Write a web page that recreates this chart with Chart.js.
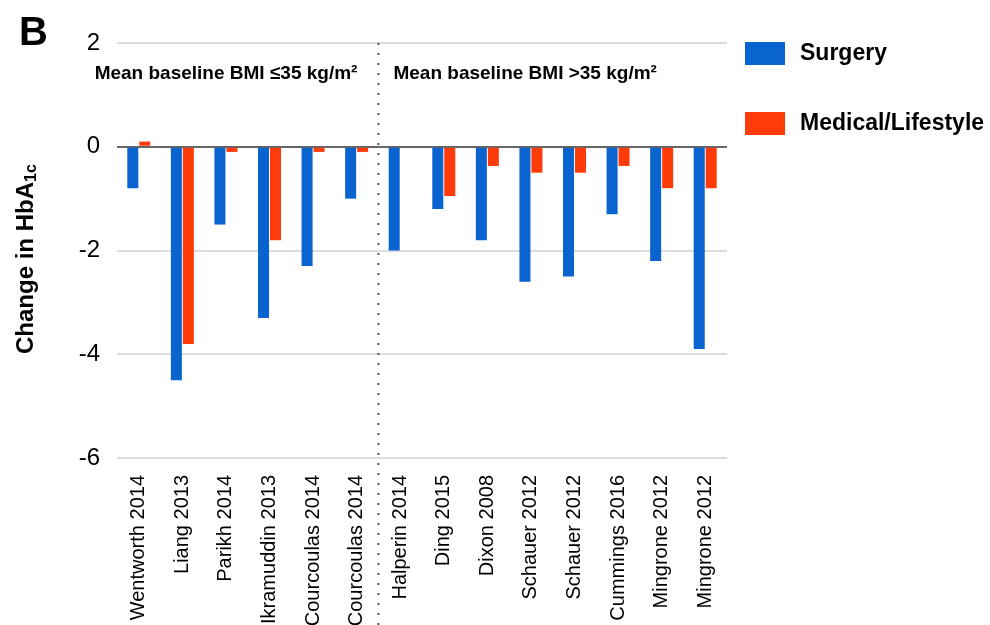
<!DOCTYPE html>
<html>
<head>
<meta charset="utf-8">
<script src="https://cdn.jsdelivr.net/npm/chart.js@4.4.1/dist/chart.umd.min.js"></script>
<style>
    body { margin: 0; background: #fff; }
    #wrap { width: 990px; height: 625px; position: relative; }
</style>
</head>
<body>
<div id="wrap"><canvas id="hbaChart" width="990" height="625"></canvas></div>
<script>
// Datos del gráfico
const studies = ['Wentworth 2014', 'Liang 2013', 'Parikh 2014', 'Ikramuddin 2013', 'Courcoulas 2014', 'Courcoulas 2014',
    'Halperin 2014', 'Ding 2015', 'Dixon 2008', 'Schauer 2012', 'Schauer 2012', 'Cummings 2016', 'Mingrone 2012', 'Mingrone 2012'];
const surgery = [-0.8, -4.5, -1.5, -3.3, -2.3, -1.0, -2.0, -1.2, -1.8, -2.6, -2.5, -1.3, -2.2, -3.9];
const medical = [0.1, -3.8, -0.1, -1.8, -0.1, -0.1, null, -0.95, -0.37, -0.5, -0.5, -0.37, -0.8, -0.8];
const yTicks = [2, 0, -2, -4, -6];
const groupNotes = ['Mean baseline BMI ≤35 kg/m²', 'Mean baseline BMI >35 kg/m²'];
const splitAfter = 5; // índice del último estudio con BMI ≤35

const FONT = 'Arial, "Liberation Sans", Helvetica, sans-serif';
const BLUE = '#0a64d0';
const RED = '#ff3b0a';

// Plugin: letra del panel, título del eje Y, línea punteada, notas y leyenda
const extras = {
    id: 'extras',
    afterDraw(chart) {
        const ctx = chart.ctx;
        const area = chart.chartArea;
        const x = chart.scales.x;
        const y = chart.scales.y;
        ctx.save();
        ctx.fillStyle = '#000';

        // Letra "B"
        ctx.font = 'bold 40px ' + FONT;
        ctx.textBaseline = 'alphabetic';
        ctx.textAlign = 'left';
        ctx.fillText('B', 19, 45);

        // Título del eje Y con subíndice
        ctx.save();
        ctx.translate(33, 354);
        ctx.rotate(-Math.PI / 2);
        ctx.font = 'bold 24px ' + FONT;
        ctx.fillText('Change in HbA', 0, 0);
        const w = ctx.measureText('Change in HbA').width;
        ctx.font = 'bold 16px ' + FONT;
        ctx.fillText('1c', w, 3);
        ctx.restore();

        // Línea punteada que separa los grupos
        const splitX = (x.getPixelForValue(splitAfter) + x.getPixelForValue(splitAfter + 1)) / 2;
        ctx.save();
        ctx.strokeStyle = '#555';
        ctx.lineWidth = 2;
        ctx.setLineDash([2, 8]);
        ctx.beginPath();
        ctx.moveTo(splitX, area.top);
        ctx.lineTo(splitX, chart.height);
        ctx.stroke();
        ctx.restore();

        // Notas de cada grupo
        ctx.font = 'bold 19px ' + FONT;
        ctx.textBaseline = 'middle';
        const noteY = y.getPixelForValue(1.4);
        ctx.textAlign = 'right';
        ctx.fillText(groupNotes[0], splitX - 21, noteY);
        ctx.textAlign = 'left';
        ctx.fillText(groupNotes[1], splitX + 15, noteY);

        // Leyenda a la derecha
        ctx.font = 'bold 23px ' + FONT;
        chart.data.datasets.forEach(function (ds, i) {
            const top = 42 + i * 70;
            ctx.fillStyle = ds.backgroundColor;
            ctx.fillRect(area.right + 18, top, 40, 23);
            ctx.fillStyle = '#000';
            ctx.fillText(ds.label, area.right + 73, top + 12);
        });
        ctx.restore();
    }
};

function createChart() {
    const ctx = document.getElementById('hbaChart').getContext('2d');
    new Chart(ctx, {
        type: 'bar',
        data: {
            labels: studies,
            datasets: [{
                label: 'Surgery',
                data: surgery,
                backgroundColor: BLUE,
                borderWidth: 0,
                categoryPercentage: 0.55,
                barPercentage: 0.92
            }, {
                label: 'Medical/Lifestyle',
                data: medical,
                backgroundColor: RED,
                borderWidth: 0,
                categoryPercentage: 0.55,
                barPercentage: 0.92
            }]
        },
        options: {
            responsive: false,
            animation: false,
            layout: { padding: { top: 43, right: 263, left: 0, bottom: 0 } },
            plugins: {
                legend: { display: false },
                tooltip: { enabled: false }
            },
            scales: {
                x: {
                    grid: { display: false, drawTicks: false },
                    border: { display: false },
                    ticks: {
                        color: '#000',
                        font: { family: FONT, size: 20 },
                        minRotation: 90,
                        maxRotation: 90,
                        autoSkip: false,
                        padding: 17
                    },
                    afterFit: function (scale) { scale.height = 167; }
                },
                y: {
                    min: -6,
                    max: 2,
                    afterBuildTicks: function (scale) {
                        scale.ticks = yTicks.map(function (v) { return { value: v }; });
                    },
                    grid: {
                        drawTicks: false,
                        lineWidth: 2,
                        color: function (c) { return c.tick && c.tick.value === 0 ? '#666' : '#dcdcdc'; }
                    },
                    border: { display: false },
                    ticks: {
                        color: '#000',
                        font: { family: FONT, size: 24 },
                        padding: 17
                    },
                    afterFit: function (scale) { scale.width = 117; }
                }
            }
        },
        plugins: [extras]
    });
}

document.addEventListener('DOMContentLoaded', function () {
    createChart();
});
</script>
</body>
</html>
